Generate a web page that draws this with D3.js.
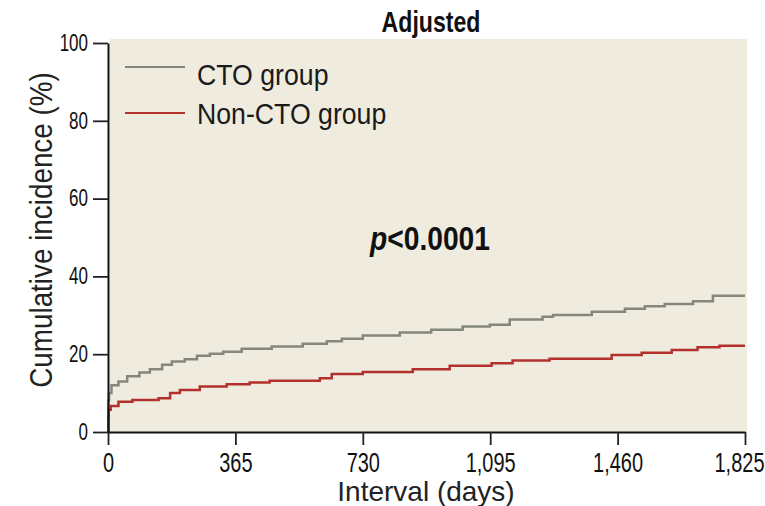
<!DOCTYPE html>
<html>
<head>
<meta charset="utf-8">
<script src="https://cdn.jsdelivr.net/npm/d3@7"></script>
<style>
  html, body { margin: 0; padding: 0; background: #ffffff; }
  svg { display: block; }
  text { font-family: "Liberation Sans", Arial, sans-serif; }
</style>
</head>
<body>
<svg id="chart" width="765" height="506"></svg>
<script>
// Adjusted cumulative incidence, step curves: [day, percent]
const ctoDays   = [0, 1, 3, 10, 30, 55, 90, 120, 155, 183, 220, 255, 292, 330, 383, 469, 558, 627, 670, 730, 836, 926, 1016, 1094, 1151, 1245, 1275, 1386, 1481, 1538, 1595, 1676, 1733, 1825];
const ctoValues = [0, 8.2, 10, 12, 13, 14.3, 15.3, 16.1, 17.3, 18.1, 18.7, 19.6, 20.1, 20.6, 21.4, 22, 22.7, 23.3, 24, 24.8, 25.6, 26.3, 27.1, 27.6, 28.9, 29.6, 30.1, 30.9, 31.7, 32.3, 32.9, 33.6, 35.0, 35.0];

const nonDays   = [0, 1, 2, 8, 30, 70, 145, 178, 206, 263, 340, 406, 463, 607, 641, 730, 873, 979, 1099, 1159, 1265, 1443, 1529, 1615, 1689, 1752, 1825];
const nonValues = [0, 3.9, 5.7, 6.7, 7.8, 8.2, 8.7, 10, 10.8, 11.7, 12.3, 12.7, 13.2, 13.8, 14.9, 15.4, 16.1, 17, 17.7, 18.4, 18.8, 19.8, 20.4, 21.1, 21.8, 22.2, 22.2];

const xTicks = [0, 365, 730, 1095, 1460, 1825];
const yTicks = [0, 20, 40, 60, 80, 100];

const seriesNames  = ["CTO group", "Non-CTO group"];
const seriesColors = ["#85867c", "#b3302d"];

const svg = d3.select("#chart");

const x = d3.scaleLinear().domain([0, 1825]).range([108, 745]);
const y = d3.scaleLinear().domain([0, 100]).range([432, 43]);

// horizontally condensed text placed at (px, py)
function condensedText(parent, px, py, sx, size, str) {
  return parent.append("text")
    .attr("transform", `translate(${px},${py}) scale(${sx},1)`)
    .style("font-size", size + "px")
    .attr("fill", "#111")
    .text(str);
}

// plot panel background
svg.append("rect")
  .attr("x", x(0) + 2).attr("y", 39)
  .attr("width", x(1825) - x(0)).attr("height", y(0) - 39)
  .attr("fill", "#efecdf");

// step curves
const line = d3.line()
  .x(d => x(d[0]))
  .y(d => y(d[1]))
  .curve(d3.curveStepAfter);

const series = [
  d3.zip(ctoDays, ctoValues),
  d3.zip(nonDays, nonValues)
];

series.forEach((pts, i) => {
  svg.append("path")
    .datum(pts)
    .attr("d", line)
    .attr("fill", "none")
    .attr("stroke", seriesColors[i])
    .attr("stroke-width", 2.5);
});

// axes
const xSx = 0.74, ySx = 0.74;
const xAxis = d3.axisBottom(x)
  .tickValues(xTicks)
  .tickFormat(d3.format(","))
  .tickSize(13)
  .tickSizeOuter(0)
  .tickPadding(8);

const yAxis = d3.axisLeft(y)
  .tickValues(yTicks)
  .tickSize(15)
  .tickSizeOuter(0)
  .tickPadding(5);

const gx = svg.append("g").attr("transform", `translate(0,${y(0)})`).call(xAxis);
const gy = svg.append("g").attr("transform", `translate(${x(0)},0)`).call(yAxis);

[gx, gy].forEach(g => {
  g.attr("font-family", null).attr("font-size", null);
  g.select(".domain").attr("stroke", "#111").attr("stroke-width", 2);
  g.selectAll(".tick line").attr("stroke", "#222").attr("stroke-width", 1.8);
  g.selectAll(".tick text").attr("fill", "#111");
});

gx.selectAll(".tick text")
  .style("font-size", "27px")
  .attr("dy", "0.71em")
  .attr("x", d => d === 1825 ? -6 / xSx : 0)
  .attr("transform", `scale(${xSx},1)`);

gy.selectAll(".tick text")
  .style("font-size", "23px")
  .attr("x", -20 / ySx)
  .attr("transform", `scale(${ySx},1)`);

// title
condensedText(svg, 431, 32, 0.77, 30, "Adjusted")
  .attr("text-anchor", "middle")
  .attr("font-weight", "bold");

// axis titles
svg.append("text")
  .attr("transform", "translate(52,230) rotate(-90) scale(0.87,1)")
  .attr("text-anchor", "middle")
  .style("font-size", "32px")
  .attr("fill", "#222")
  .text("Cumulative incidence (%)");

svg.append("text")
  .attr("x", 426).attr("y", 501)
  .attr("text-anchor", "middle")
  .style("font-size", "28px")
  .attr("fill", "#222")
  .text("Interval (days)");

// legend
const legendLineY = [67, 113];
const legendTextY = [84.5, 123.5];
seriesNames.forEach((name, i) => {
  svg.append("line")
    .attr("x1", 125).attr("x2", 185)
    .attr("y1", legendLineY[i]).attr("y2", legendLineY[i])
    .attr("stroke", seriesColors[i])
    .attr("stroke-width", 2.2);
  condensedText(svg, 197, legendTextY[i], 0.92, 29, name)
    .attr("fill", "#1a1a1a");
});

// significance annotation
const pLabel = condensedText(svg, 370, 250, 0.855, 33, "")
  .attr("font-weight", "bold");
pLabel.append("tspan").attr("font-style", "italic").text("p");
pLabel.append("tspan").text("<0.0001");
</script>
</body>
</html>
